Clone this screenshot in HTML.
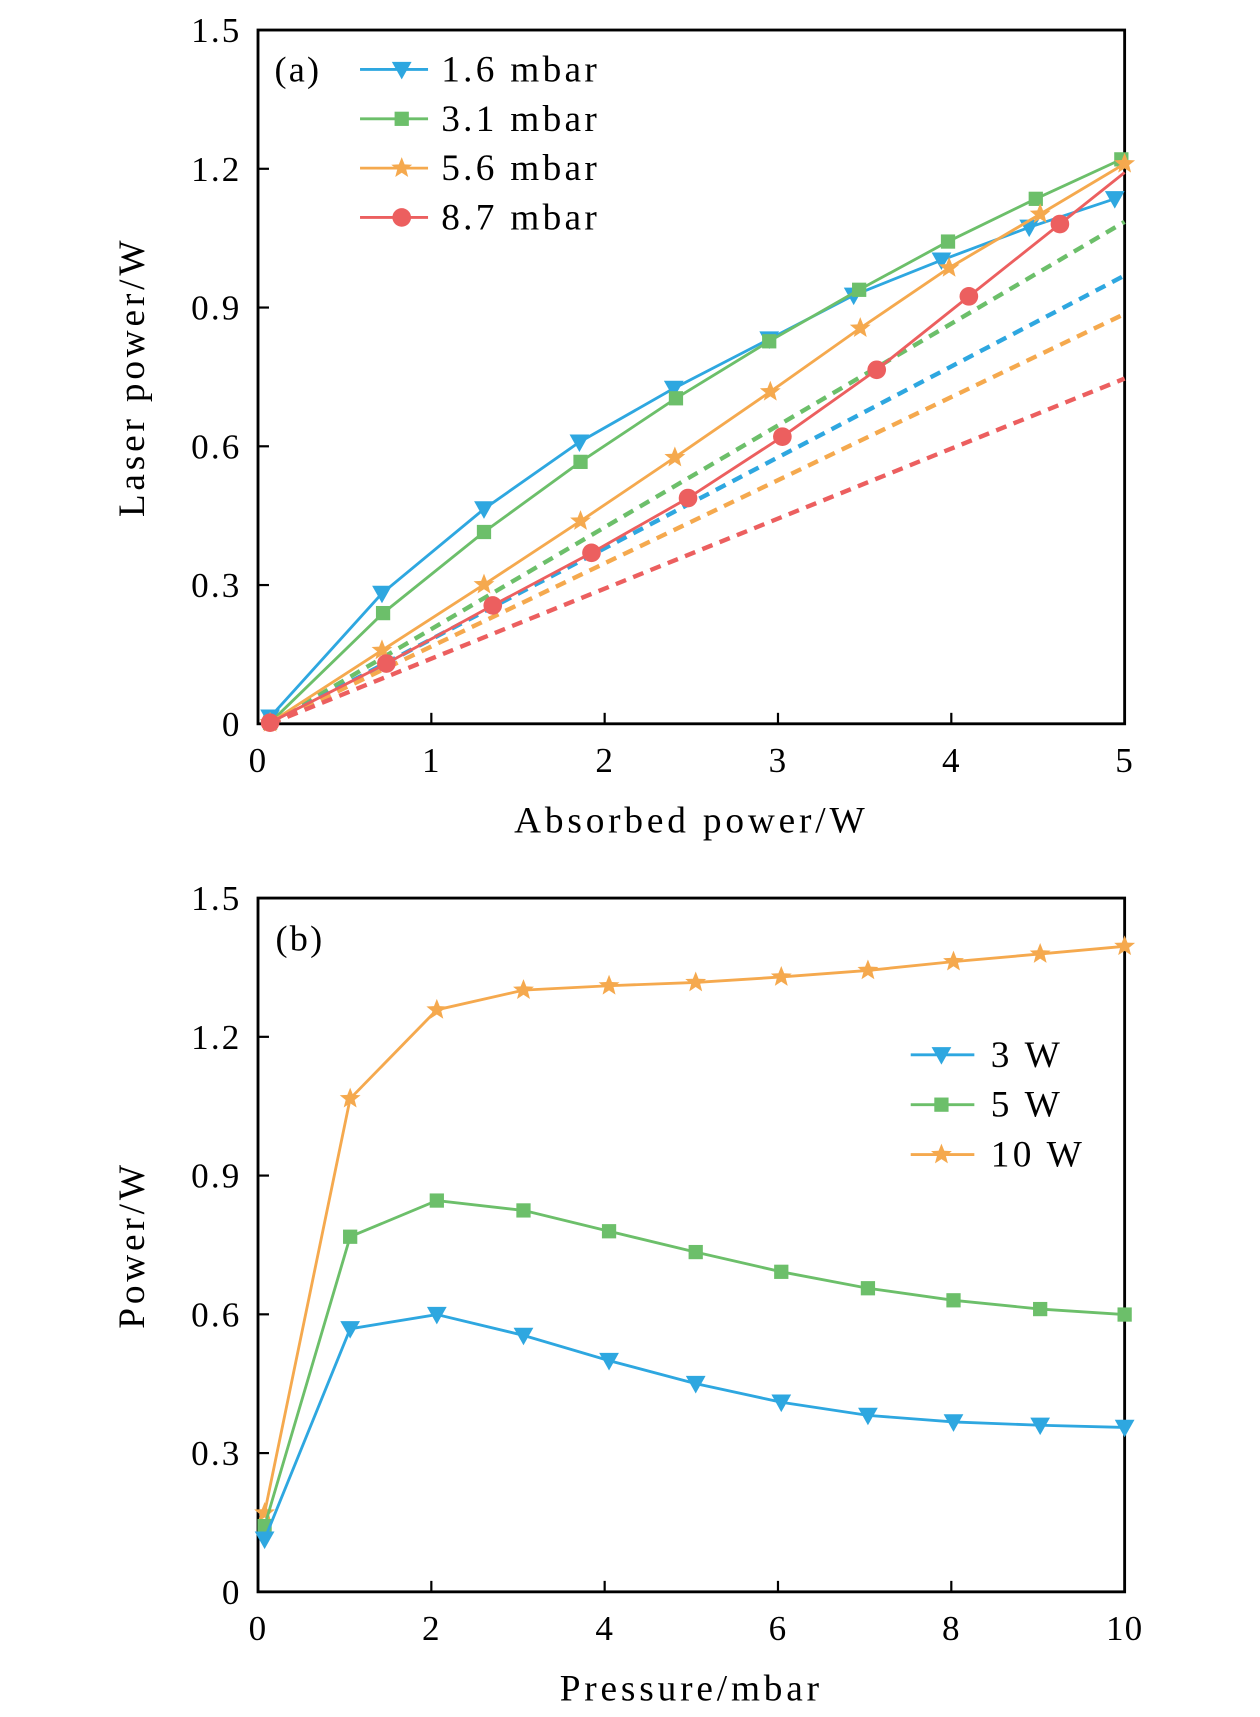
<!DOCTYPE html>
<html><head><meta charset="utf-8"><style>
html,body{margin:0;padding:0;background:#fff;}
svg{display:block;}
text{font-family:"Liberation Serif",serif;fill:#000;}
</style></head><body>
<svg id="s" width="1260" height="1717" viewBox="1.8 0.6 1148.6 1566.6" preserveAspectRatio="none" xmlns="http://www.w3.org/2000/svg">
<defs>
<g id="tri"><path d="M-9,-7 L9,-7 L0,9 Z"/></g>
<g id="sq"><rect x="-6.5" y="-6.5" width="13" height="13"/></g>
<g id="star"><path d="M0,-10 L2.6,-3.4 L9.5,-3.1 L4.1,1.3 L5.9,8.1 L0,4.2 L-5.9,8.1 L-4.1,1.3 L-9.5,-3.1 L-2.6,-3.4 Z"/></g>
<g id="circ"><circle r="8.5"/></g>
</defs>
<g id="root"></g>
</svg>
<script>
var NS="http://www.w3.org/2000/svg",root=document.getElementById('root');
function el(t,a,txt){var e=document.createElementNS(NS,t);for(var k in a)e.setAttribute(k,a[k]);if(txt!=null)e.textContent=txt;root.appendChild(e);return e;}
var B='#2ea7e0',G='#6cbf6a',O='#f5a94e',R='#ec5f5f';
function pl(pts,c,dash){el('polyline',{points:pts.map(p=>p.join(',')).join(' '),fill:'none',stroke:c,'stroke-width':dash?4:2.6,'stroke-dasharray':dash?'10,7':'none'});}
function mk(pts,c,m){pts.forEach(p=>{el('use',{href:'#'+m,x:p[0],y:p[1],fill:c});});}
function series(pts,c,m,noLastMarker){pl(pts,c);mk(noLastMarker?pts.slice(0,-1):pts,c,m);}
function axes(top,bottom,xt,yl,xl){
 el('rect',{x:237,y:top,width:790,height:bottom-top,fill:'none',stroke:'#000','stroke-width':2.6});
 var ys=['0','0.3','0.6','0.9','1.2','1.5'];
 for(var i=0;i<6;i++){var y=bottom-(bottom-top)*i/5;
  if(i>0&&i<5)el('line',{x1:237,y1:y,x2:247,y2:y,stroke:'#000','stroke-width':2});
  el('text',{x:222,y:y+11,'font-size':32,'text-anchor':'end','letter-spacing':'2'},ys[i]);}
 for(var j=0;j<xt.length;j++){var x=237+790*j/(xt.length-1);
  if(j>0&&j<xt.length-1)el('line',{x1:x,y1:bottom,x2:x,y2:bottom-10,stroke:'#000','stroke-width':2});
  el('text',{x:x,y:bottom+44,'font-size':32,'text-anchor':'middle','letter-spacing':'1'},xt[j]);}
 el('text',{x:632,y:bottom+99,'font-size':34,'text-anchor':'middle','letter-spacing':'3.5'},xl);
 var cy=(top+bottom)/2;
 el('text',{x:0,y:0,'font-size':34,'text-anchor':'middle','letter-spacing':'3.5',transform:'translate(133,'+cy+') rotate(-90)'},yl);
}
// Panel a
axes(28,661,['0','1','2','3','4','5'],'Laser power/W','Absorbed power/W');
pl([[248,661],[1027,203]],G,1);pl([[248,661],[1027,252]],B,1);pl([[248,661],[1027,287]],O,1);pl([[248,661],[1027,346]],R,1);
series([[248,655],[350,542],[443,465],[530,404],[616,355],[703,310],[780,270],[860,238],[940,208],[1018,182]],B,'tri');
series([[248,660],[351,560],[443,486],[531,422],[618,364],[703,312],[785,265],[866,221],[946,182],[1024,146]],G,'sq');
series([[248,660],[350,594],[443,534],[531,476],[617,418],[704,358],[786,300],[867,245],[950,196],[1027,150]],O,'star');
series([[248,660],[354,606],[451,553],[541,505],[629,455],[715,399],[801,338],[885,271],[968,205],[1027,158]],R,'circ',1);
el('text',{x:252,y:75,'font-size':33,'letter-spacing':'2'},'(a)');
[[B,'tri','1.6 mbar'],[G,'sq','3.1 mbar'],[O,'star','5.6 mbar'],[R,'circ','8.7 mbar']].forEach((l,i)=>{var y=64+45*i;
 el('line',{x1:330,y1:y,x2:392,y2:y,stroke:l[0],'stroke-width':2.6});el('use',{href:'#'+l[1],x:368,y:y,fill:l[0]});
 el('text',{x:404,y:y+11,'font-size':34,'letter-spacing':'3'},l[2]);});
// Panel b
axes(820,1453,['0','2','4','6','8','10'],'Power/W','Pressure/mbar');
series([[243,1381],[321,1003],[400,922],[479,904],[557,900],[636,897],[714,892],[793,886],[871,878],[950,871],[1027,864]],O,'star');
series([[243,1393],[321,1129],[400,1096],[479,1105],[557,1124],[636,1143],[714,1161],[793,1176],[871,1187],[950,1195],[1027,1200]],G,'sq');
series([[243,1405],[321,1213],[400,1200],[479,1219],[557,1242],[636,1263],[714,1280],[793,1292],[871,1298],[950,1301],[1027,1303]],B,'tri');
el('text',{x:253,y:868,'font-size':33,'letter-spacing':'2'},'(b)');
[[B,'tri','3 W'],[G,'sq','5 W'],[O,'star','10 W']].forEach((l,i)=>{var y=963+45.5*i;
 el('line',{x1:832,y1:y,x2:890,y2:y,stroke:l[0],'stroke-width':2.6});el('use',{href:'#'+l[1],x:860,y:y,fill:l[0]});
 el('text',{x:905,y:y+11,'font-size':34,'letter-spacing':'3'},l[2]);});
</script>
</body></html>
